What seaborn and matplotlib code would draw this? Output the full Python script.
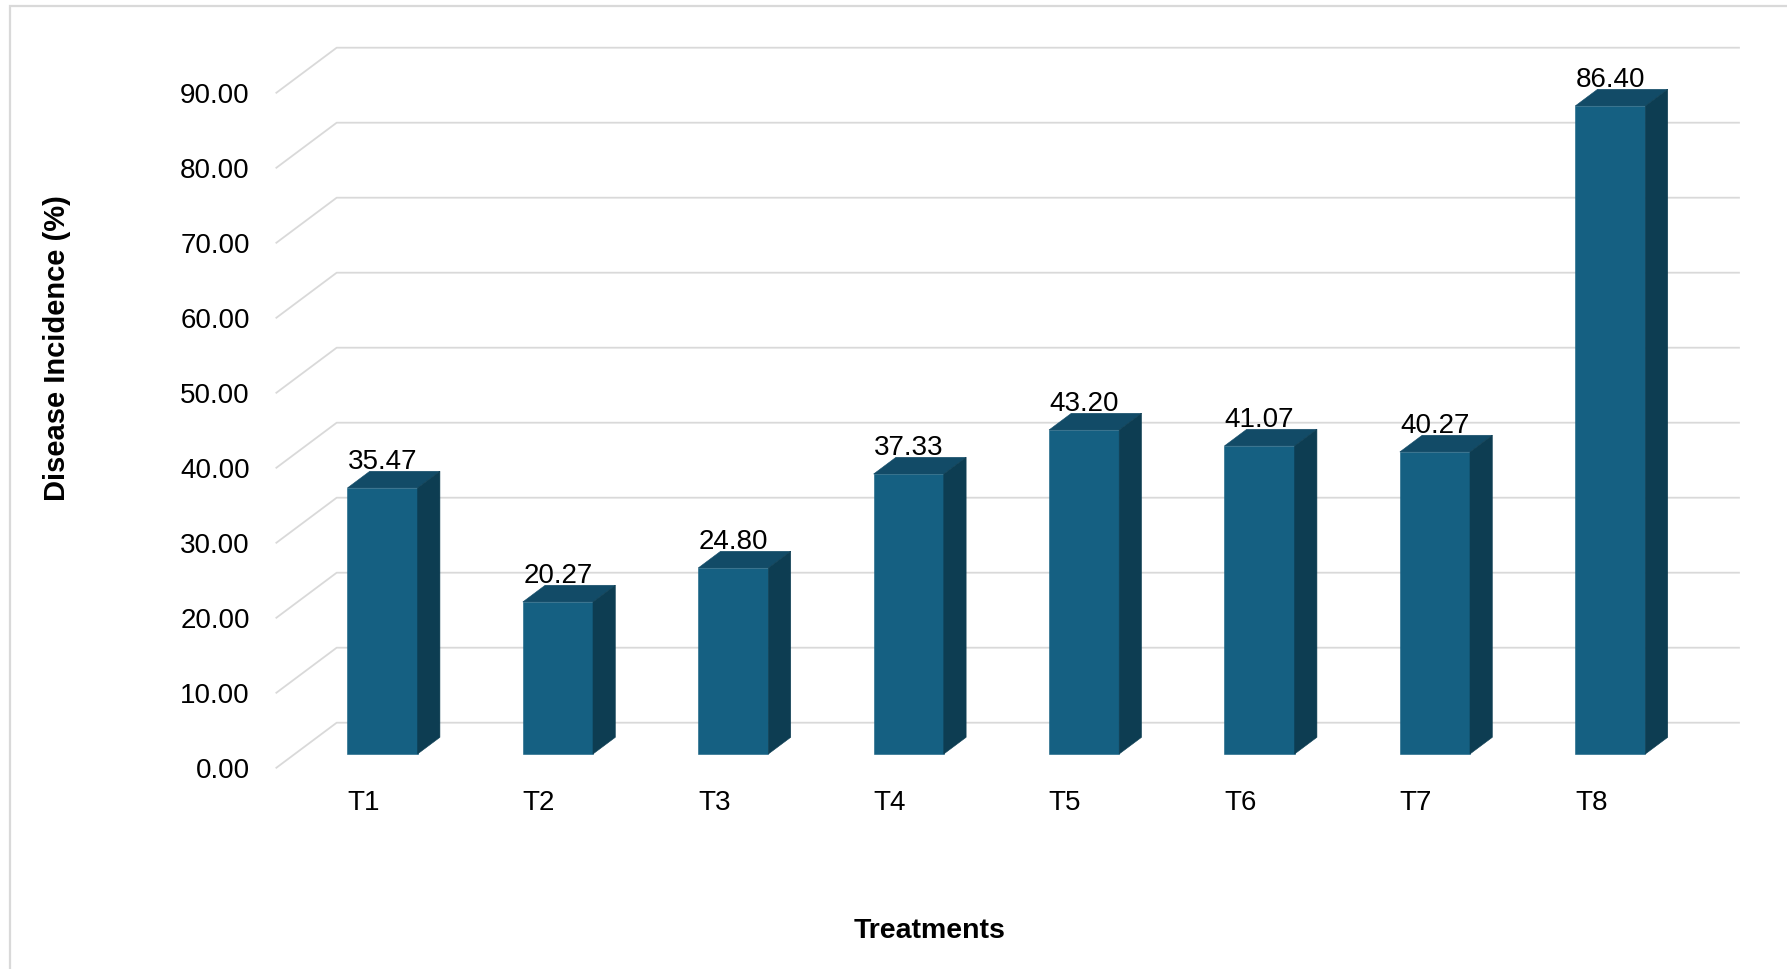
import numpy as np
import matplotlib
matplotlib.use("Agg")
import matplotlib.pyplot as plt
from matplotlib.patches import Polygon, Rectangle
import seaborn as sns

# Disease incidence per treatment
treatments = ["T1", "T2", "T3", "T4", "T5", "T6", "T7", "T8"]
incidence = [35.47, 20.27, 24.80, 37.33, 43.20, 41.07, 40.27, 86.40]
y_ticks = [0, 10, 20, 30, 40, 50, 60, 70, 80, 90]

# Oblique "3-D" projection: shift of the full depth in data units
DEPTH_DX = 0.348
DEPTH_DY = 6.08
BAR_FRONT = 0.314   # depth fraction of the bar front face
BAR_BACK = 0.68     # depth fraction of the bar back face
BAR_WIDTH = 0.4

FRONT_COLOR = "#156082"
TOP_COLOR = "#124b67"
SIDE_COLOR = "#0d3d52"
GRID_COLOR = "#d9d9d9"

sns.set_theme(style="white")
plt.rcParams["font.family"] = ["Liberation Sans", "DejaVu Sans"]

W, H = 1787, 969
fig = plt.figure(figsize=(W / 100, H / 100), dpi=100)
fig.patch.set_facecolor("white")

# chart-area frame
fig.patches.append(Rectangle((10 / W, -0.1), 1.2, 1.1 - 5.5 / H,
                             transform=fig.transFigure, fill=False,
                             edgecolor=GRID_COLOR, linewidth=1.6))

ax = fig.add_axes([258.1 / W, 1 - 790.8 / H, (1749 - 258.1) / W, 750 / H])
ax.set_facecolor("none")

sns.barplot(x=treatments, y=incidence, width=BAR_WIDTH, color=FRONT_COLOR,
            saturation=1, errorbar=None, ax=ax, zorder=3)

n = len(treatments)
ax.set_xlim(-0.6, 7.9)
ax.set_ylim(-3, 97)

# back wall and side wall gridlines
x_left, x_right = -0.5, n - 0.5
for v in y_ticks:
    xs = [x_left, x_left + DEPTH_DX, x_right + DEPTH_DX]
    ys = [v, v + DEPTH_DY, v + DEPTH_DY]
    ax.plot(xs, ys, color=GRID_COLOR, lw=1.3, zorder=1, solid_capstyle="butt")

# shift the bar fronts into depth and add top and side faces
fdx, fdy = BAR_FRONT * DEPTH_DX, BAR_FRONT * DEPTH_DY
bdx, bdy = BAR_BACK * DEPTH_DX, BAR_BACK * DEPTH_DY
ddx, ddy = bdx - fdx, bdy - fdy
for p, val in zip(ax.patches, incidence):
    x0 = p.get_x() + fdx
    y0 = p.get_y() + fdy
    w = p.get_width()
    h = p.get_height()
    p.set_x(x0)
    p.set_y(y0)
    p.set_edgecolor(FRONT_COLOR)
    p.set_linewidth(0.4)
    top = Polygon([(x0, y0 + h), (x0 + w, y0 + h), (x0 + w + ddx, y0 + h + ddy),
                   (x0 + ddx, y0 + h + ddy)], closed=True, facecolor=TOP_COLOR,
                  edgecolor=TOP_COLOR, linewidth=0.4, zorder=3)
    side = Polygon([(x0 + w, y0), (x0 + w + ddx, y0 + ddy),
                    (x0 + w + ddx, y0 + h + ddy), (x0 + w, y0 + h)], closed=True,
                   facecolor=SIDE_COLOR, edgecolor=SIDE_COLOR, linewidth=0.4,
                   zorder=3)
    ax.add_patch(top)
    ax.add_patch(side)
    ax.annotate(f"{val:.2f}", (x0 + w / 2, y0 + h + ddy), xytext=(0, 1.5),
                textcoords="offset points", ha="center", va="baseline",
                fontsize=20, color="black", zorder=5)

ax.set_yticks(y_ticks)
ax.set_yticklabels([f"{v:.2f}" for v in y_ticks], fontsize=20, color="black")
ax.set_xticks(range(n))
ax.set_xticklabels(treatments, fontsize=20, color="black")
ax.tick_params(axis="y", length=0, pad=6)
ax.tick_params(axis="x", length=0, pad=-0.5)
ax.set_xlabel("")
ax.set_ylabel("")
for s in ax.spines.values():
    s.set_visible(False)
ax.grid(False)

fig.text(57 / W, 1 - 348 / H, "Disease Incidence (%)", rotation=90,
         ha="center", va="center", fontsize=21, fontweight="bold", color="black")
fig.text(929.7 / W, 1 - 931 / H, "Treatments", ha="center", va="center",
         fontsize=20.5, fontweight="bold", color="black")

fig.savefig("out.png", dpi=100)
